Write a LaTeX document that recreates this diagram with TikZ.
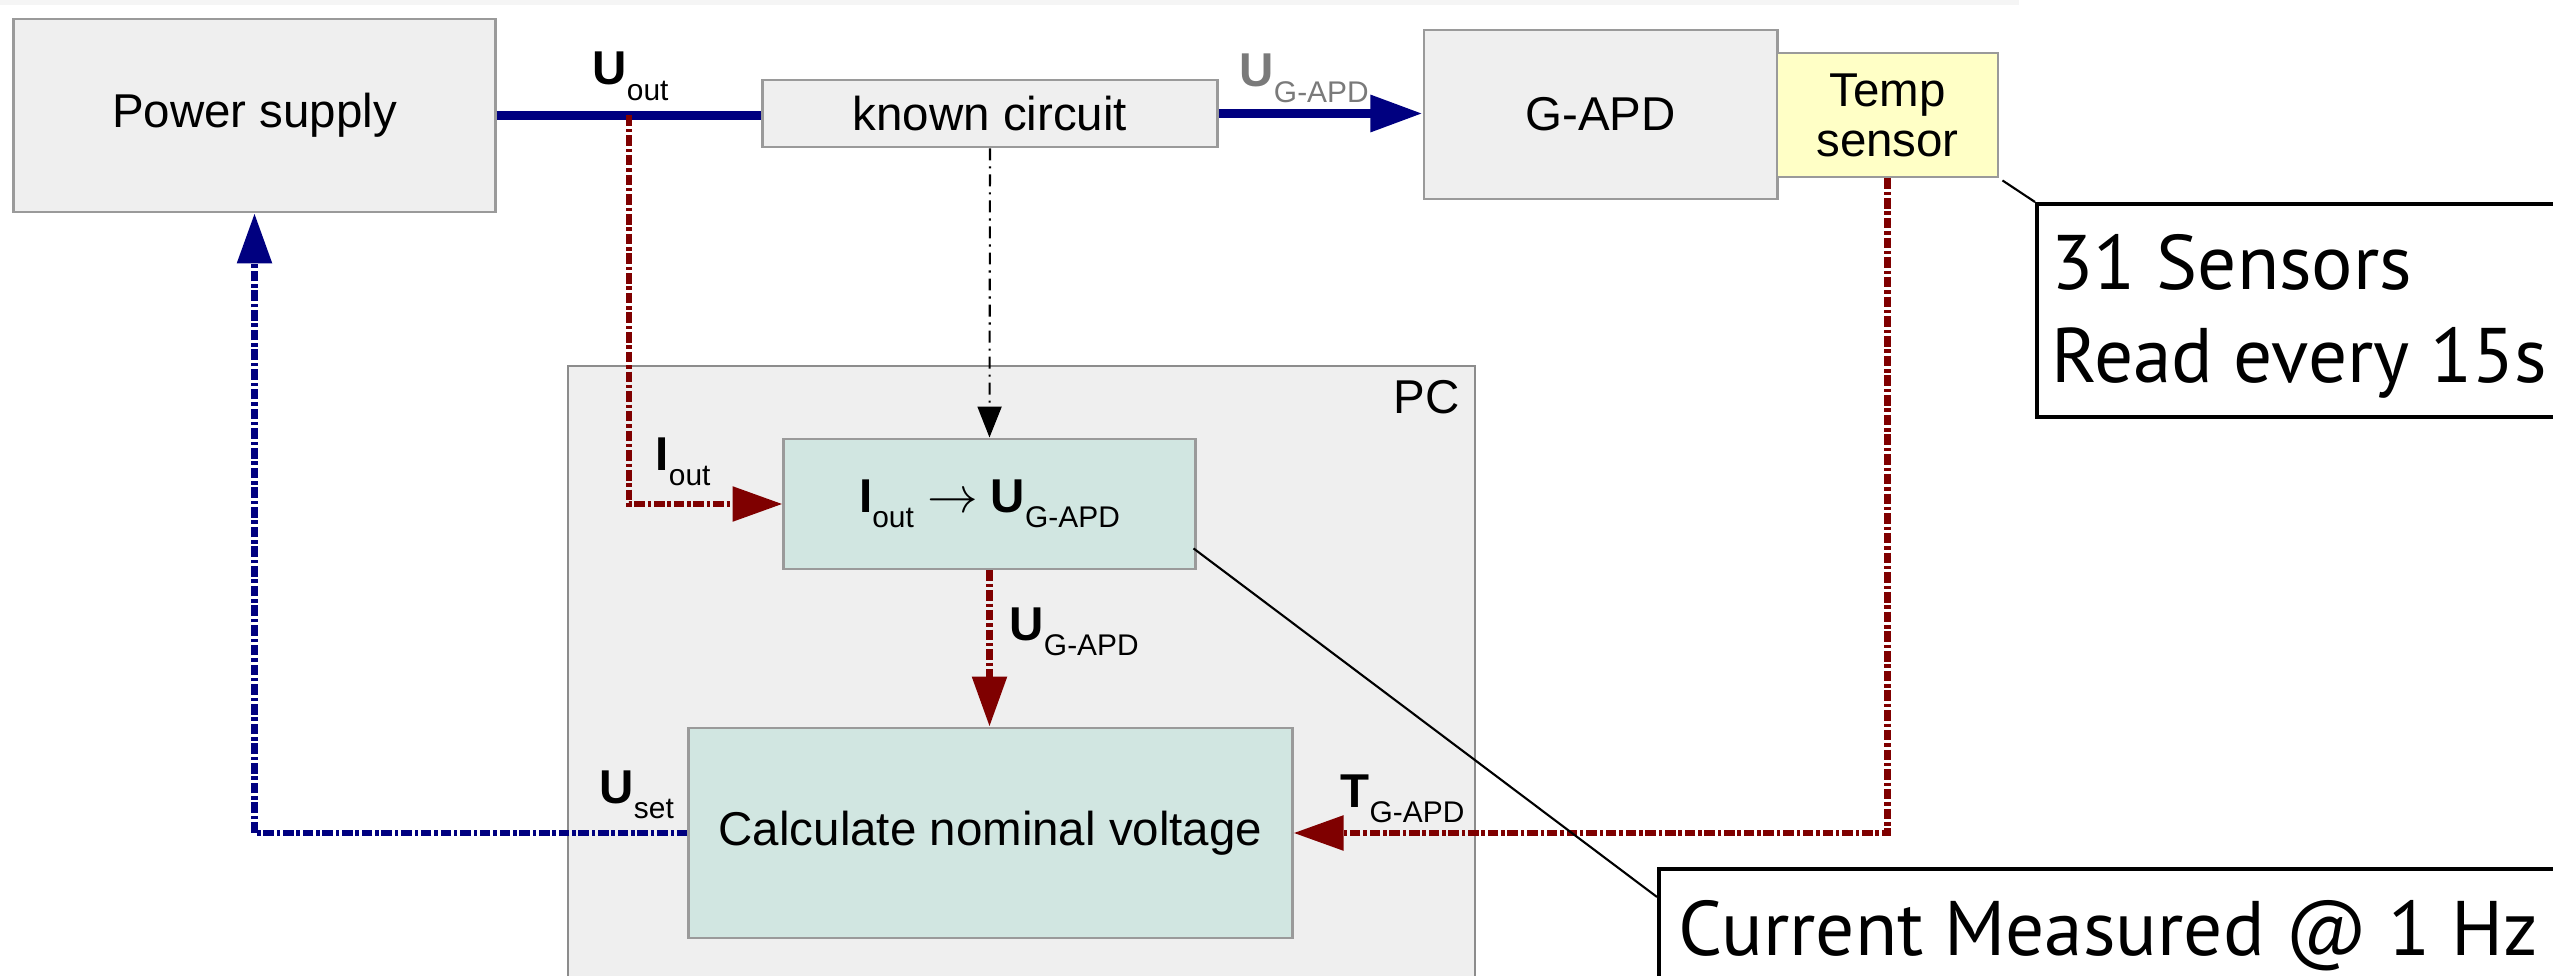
\documentclass[tikz,border=0pt]{standalone}
\usepackage{fontspec}
\setmainfont{Liberation Sans}
\newfontfamily\gillfont{PT Sans}
\usetikzlibrary{arrows.meta,calc}
\definecolor{navyc}{HTML}{000080}
\definecolor{maroonc}{HTML}{7F0000}
\definecolor{boxgray}{HTML}{EFEFEF}
\definecolor{boxline}{HTML}{9A9A9A}
\definecolor{tealfill}{HTML}{D1E6E1}
\definecolor{yellowfill}{HTML}{FFFFC6}
\definecolor{pcline}{HTML}{8C8C8C}
\definecolor{striptop}{HTML}{F5F5F5}
\definecolor{graytext}{HTML}{7A7A7A}
\newcommand{\mainsize}{\fontsize{13.5}{14.2}\selectfont}
\newcommand{\subsize}{\fontsize{8.5}{10}\selectfont}
\newcommand{\symlbl}[2]{\textbf{#1}\raisebox{-4.4pt}{\subsize #2}}
\begin{document}
\begin{tikzpicture}[x=0.01cm,y=-0.01cm,
  blk/.style={draw=boxline,line width=0.8pt,fill=boxgray,inner sep=0pt,font=\mainsize},
  proc/.style={blk,fill=tealfill},
  sensorbox/.style={blk,fill=yellowfill,align=center},
  callbox/.style={draw=black,line width=1pt,fill=white,inner sep=0pt},
  callouttext/.style={font=\gillfont\fontsize{22}{26}\selectfont,inner sep=0pt,anchor=base west},
  lbl/.style={font=\mainsize,inner sep=0pt,anchor=base west},
  supply/.style={navyc,line width=2.5pt},
  measured/.style={maroonc,line width=1.8pt,dash pattern=on 3pt off 0.8pt on 1pt off 0.8pt},
  feedback/.style={navyc,line width=1.8pt,dash pattern=on 3pt off 0.8pt on 1pt off 0.8pt},
  info/.style={black,line width=0.6pt,dash pattern=on 3.4pt off 1.7pt on 0.6pt off 1.7pt},
  leader/.style={black,line width=0.6pt},
  bigtip/.style={-{Triangle[length=14.2pt,width=9.6pt]}},
  toptip/.style={-{Triangle[length=14.8pt,width=10pt]}},
  smalltip/.style={-{Triangle[length=8.8pt,width=6.8pt]}},
]
\useasboundingbox (0,0) rectangle (2553,976);
\clip (0,0) rectangle (2553,976);
\fill[striptop] (0,0) rectangle (2019,5);

% PC frame
\node[draw=pcline,line width=0.6pt,fill=boxgray,inner sep=0pt,anchor=north west,
      minimum width=9.06cm,minimum height=6.5cm] (pc) at (567,365) {};
\node[font=\mainsize,inner sep=0pt,anchor=base east] (pclabel) at (1460,413) {PC};

% blocks
\node[blk,minimum width=4.81cm,minimum height=1.93cm] (ps) at (254.5,115.5) {Power supply};
\node[blk,minimum width=4.54cm,minimum height=0.67cm] (kc) at (990,113.5) {known circuit};
\node[blk,minimum width=3.53cm,minimum height=1.69cm] (gapd) at (1600.5,114.5) {G-APD};
\node[sensorbox,minimum width=2.21cm,minimum height=1.24cm,font=\mainsize] (temp) at (1887.5,115) {Temp\\sensor};
\node[proc,minimum width=4.11cm,minimum height=1.30cm] (conv) at (989.5,504)
  {\symlbl{I}{out} $\rightarrow$ \symlbl{U}{G-APD}};
\node[proc,minimum width=6.03cm,minimum height=2.10cm] (calc) at (990.5,833) {Calculate nominal voltage};

% connectors
\coordinate (jred) at (629,0);
\draw[supply] (ps.east) -- (ps.east -| kc.west);
\draw[supply,toptip] (kc.east) -- (kc.east -| gapd.west);
\draw[measured,bigtip] (jred |- ps.east) |- (conv.west);
\draw[info,smalltip] (kc.south) -- (conv.north);
\draw[measured,bigtip] (conv.south) -- (conv.south |- calc.north);
\draw[measured,bigtip] (temp.south) |- (calc.east);
\draw[feedback,bigtip] (calc.west) -| (ps.south);

% signal labels
\node[lbl] (luout) at (592,85) {\symlbl{U}{out}};
\node[lbl,text=graytext] (lugtop) at (1239,87) {\symlbl{U}{G-APD}};
\node[lbl] (liout) at (655,470) {\symlbl{I}{out}};
\node[lbl] (lugmid) at (1009,640) {\symlbl{U}{G-APD}};
\node[lbl] (luset) at (599,803) {\symlbl{U}{set}};
\node[lbl] (ltg) at (1340,807) {\symlbl{T}{G-APD}};

% callouts
\node[callbox,anchor=north west,minimum width=6cm,minimum height=2.13cm] (co1) at (2035,202) {};
\node[callouttext] (co1a) at (2051,290) {31 Sensors};
\node[callouttext] (co1b) at (2051,383) {Read every 15s};
\draw[leader] ($(temp.south east)+(3,2)$) -- (co1.north west);

\node[callbox,anchor=north west,minimum width=10cm,minimum height=2cm] (co2) at (1657,867) {};
\node[callouttext] (co2a) at (1678,955) {Current Measured @ 1 Hz};
\draw[leader] ($(conv.south east)+(-3,-22)$) -- ($(co2.north west)+(0,30)$);
\end{tikzpicture}
\end{document}
